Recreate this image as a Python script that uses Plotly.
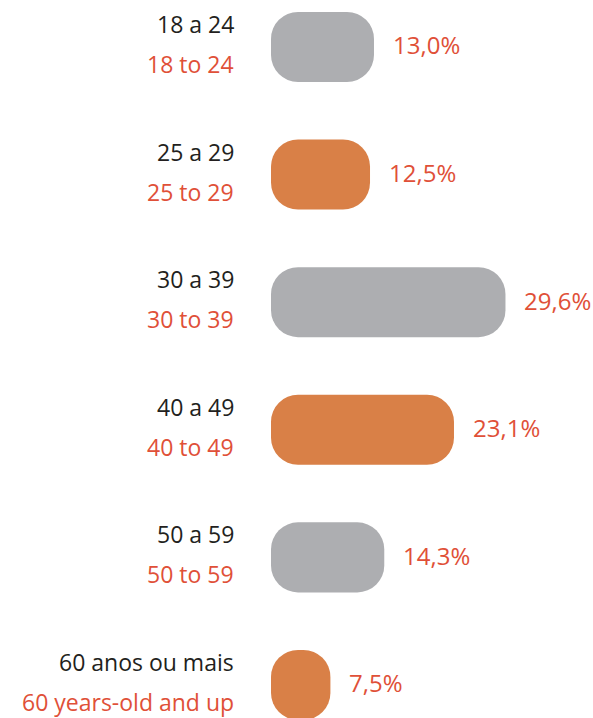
import plotly.graph_objects as go

categories_pt = ["18 a 24", "25 a 29", "30 a 39", "40 a 49", "50 a 59", "60 anos ou mais"]
categories_en = ["18 to 24", "25 to 29", "30 to 39", "40 to 49", "50 to 59", "60 years-old and up"]
values = [13.0, 12.5, 29.6, 23.1, 14.3, 7.5]
bar_colors = ["#adaeb1", "#d98047", "#adaeb1", "#d98047", "#adaeb1", "#d98047"]

W, H = 593, 718
x0_px = 271
label_right_px = 236
FONT = "'Open Sans', Lato, sans-serif"
RED = "#e05038"
BLACK = "#231f20"

fig = go.Figure()
fig.add_trace(go.Bar(
    y=categories_pt, x=values, base=[0] * len(values), orientation="h",
    marker=dict(color=bar_colors, cornerradius=27, line=dict(width=0)),
    width=0.549, hoverinfo="skip", showlegend=False,
))

annotations = []
for pt, en, v in zip(categories_pt, categories_en, values):
    annotations.append(dict(
        x=label_right_px / W, xref="paper", y=pt, yref="y", text=pt,
        xanchor="right", yanchor="middle", yshift=23, showarrow=False,
        font=dict(family=FONT, size=23, color=BLACK),
    ))
    annotations.append(dict(
        x=label_right_px / W, xref="paper", y=pt, yref="y", text=en,
        xanchor="right", yanchor="middle", yshift=-17, showarrow=False,
        font=dict(family=FONT, size=23, color=RED),
    ))
    annotations.append(dict(
        x=v, xref="x", y=pt, yref="y", text=f"{v:.1f}%".replace(".", ","),
        xanchor="left", yanchor="middle", xshift=17, yshift=2, showarrow=False,
        font=dict(family=FONT, size=24, color=RED),
    ))

fig.update_layout(
    width=W, height=H,
    margin=dict(l=0, r=0, t=0, b=0),
    paper_bgcolor="white", plot_bgcolor="white",
    xaxis=dict(domain=[x0_px / W, 1], range=[0, 40.65], visible=False, fixedrange=True),
    yaxis=dict(type="category", range=[5.259, -0.368], visible=False, fixedrange=True),
    annotations=annotations,
)

fig.write_html(
    "out.html",
    config={"displayModeBar": False},
    post_script="document.body.style.margin='0';document.body.style.overflow='hidden';",
)
